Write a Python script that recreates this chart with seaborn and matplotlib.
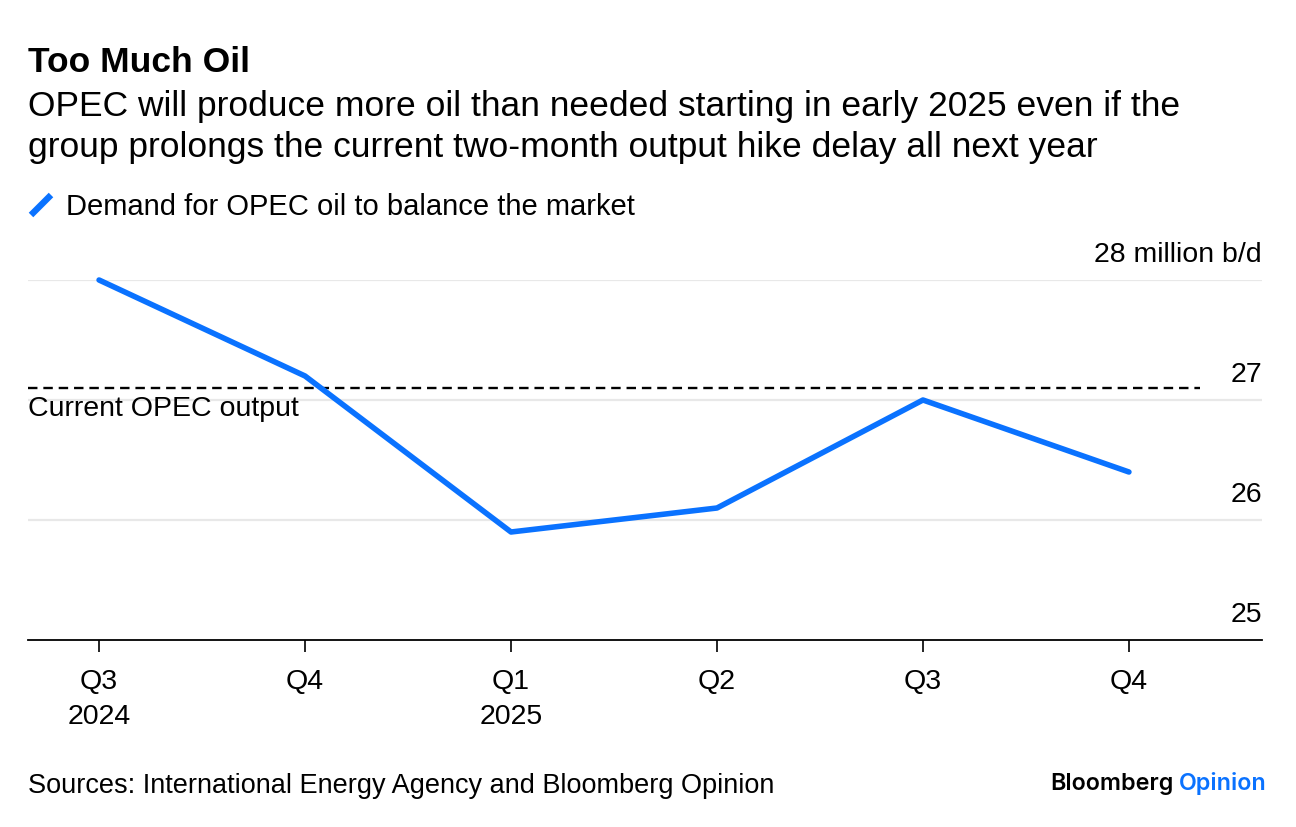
import matplotlib
matplotlib.use("Agg")
import matplotlib.pyplot as plt
import seaborn as sns
import pandas as pd
from matplotlib.lines import Line2D

quarters = ["Q3\n2024", "Q4", "Q1\n2025", "Q2", "Q3", "Q4"]
demand = [28.0, 27.2, 25.9, 26.1, 27.0, 26.4]
current_output = 27.1
y_ticks = [25, 26, 27, 28]
y_labels = ["25", "26", "27", "28 million b/d"]

sns.set_theme(style="white")
plt.rcParams["font.family"] = ["Liberation Sans", "DejaVu Sans"]
plt.rcParams["text.color"] = "black"
plt.rcParams["xtick.color"] = "black"
plt.rcParams["xtick.labelcolor"] = "black"

BLUE = "#0A72FF"
fig = plt.figure(figsize=(12.96, 8.28), dpi=100)
ax = fig.add_axes([28/1296, 1-641/828, (1262-28)/1296, (641-281)/828])

df = pd.DataFrame({"x": range(len(quarters)), "y": demand})
sns.lineplot(data=df, x="x", y="y", ax=ax, color=BLUE, lw=4.0, clip_on=False,
             solid_capstyle="round", solid_joinstyle="round", zorder=5)

ax.set_xlim(-0.345, 5.646)
ax.set_ylim(25, 28)

for t in y_ticks[1:]:
    ax.axhline(t, color="#e8e8e8", lw=1.6, zorder=0)
ax.plot([-0.345, 5.345], [current_output]*2, color="black", lw=1.7,
        dashes=(4.0, 2.5), zorder=3)
ax.text(-0.345, current_output - 0.06, "Current OPEC output", ha="left", va="top",
        fontsize=20.5, color="black")

for t, lab in zip(y_ticks, y_labels):
    ax.annotate(lab, xy=(1, t), xycoords=("axes fraction", "data"),
                xytext=(0, 19), textcoords="offset points", ha="right", va="center",
                fontsize=20.5, color="black")

ax.set_yticks([])
ax.set_xticks(range(len(quarters)))
ax.set_xticklabels(quarters, fontsize=20.5, linespacing=1.45, color="black")
ax.tick_params(axis="x", length=8.5, width=1.2, color="black", pad=12, bottom=True)
for s in ["top", "right", "left"]:
    ax.spines[s].set_visible(False)
ax.spines["bottom"].set_color("black")
ax.spines["bottom"].set_linewidth(1.3)
ax.set_xlabel("")
ax.set_ylabel("")

fig.text(28/1296, 1-62/828, "Too Much Oil", fontsize=25.5, fontweight="bold", va="center", ha="left")
fig.text(28/1296, 1-127/828,
         "OPEC will produce more oil than needed starting in early 2025 even if the\n"
         "group prolongs the current two-month output hike delay all next year",
         fontsize=25.5, va="center", ha="left", linespacing=1.3)
fig.add_artist(Line2D([31/1296, 51/1296], [1-216/828, 1-196/828], color=BLUE, lw=4.6,
                      solid_capstyle="butt", transform=fig.transFigure))
fig.text(66/1296, 1-207/828, "Demand for OPEC oil to balance the market",
         fontsize=21, va="center", ha="left")
fig.text(28/1296, 1-786/828, "Sources: International Energy Agency and Bloomberg Opinion",
         fontsize=19.5, va="center", ha="left")
fig.text(1267/1296, 1-784/828, "Opinion", fontsize=16.8, fontweight="semibold", color=BLUE,
         family=["Inter", "DejaVu Sans"], va="center", ha="right")
fig.text(1174/1296, 1-784/828, "Bloomberg", fontsize=16.8, fontweight="semibold", color="black",
         family=["Inter", "DejaVu Sans"], va="center", ha="right")

fig.savefig("out.png", dpi=100)
